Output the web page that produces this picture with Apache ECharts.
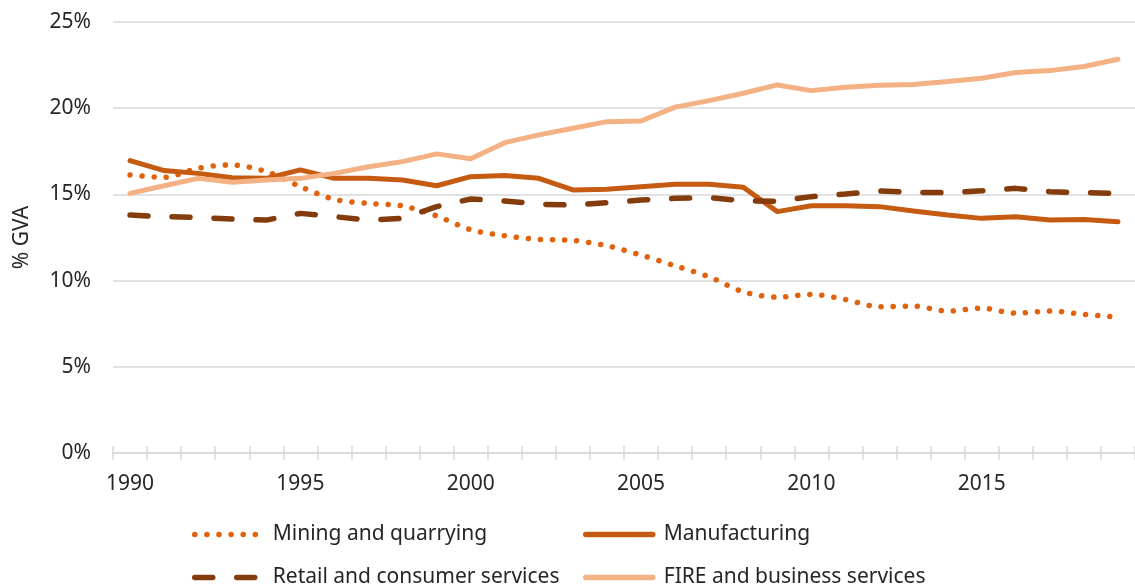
<!DOCTYPE html>
<html>
<head>
<meta charset="utf-8">
<script src="https://cdn.jsdelivr.net/npm/echarts@6/dist/echarts.min.js"></script>
<style>
  html, body { margin: 0; padding: 0; background: #fff; }
  #chart { width: 1135px; height: 587px; }
</style>
</head>
<body>
<div id="chart"></div>
<script>
// years on the x axis
const years = ['1990','1991','1992','1993','1994','1995','1996','1997','1998','1999',
  '2000','2001','2002','2003','2004','2005','2006','2007','2008','2009',
  '2010','2011','2012','2013','2014','2015','2016','2017','2018','2019']

// % of GVA
const mining = [16.13, 15.99, 16.52, 16.71, 16.32, 15.45, 14.71, 14.48, 14.33, 13.75,
  12.95, 12.6, 12.39, 12.33, 12.02, 11.48, 10.86, 10.22, 9.35, 9.04,
  9.2, 8.9, 8.48, 8.52, 8.23, 8.4, 8.11, 8.23, 8.04, 7.88]
const manufacturing = [16.96, 16.38, 16.22, 15.97, 15.93, 16.42, 15.93, 15.93, 15.84, 15.5,
  16.03, 16.09, 15.93, 15.26, 15.3, 15.45, 15.59, 15.59, 15.41, 14.0,
  14.34, 14.34, 14.29, 14.04, 13.8, 13.61, 13.71, 13.51, 13.55, 13.41]
const retail = [13.8, 13.71, 13.67, 13.57, 13.51, 13.9, 13.71, 13.51, 13.61, 14.29,
  14.73, 14.62, 14.43, 14.38, 14.52, 14.67, 14.77, 14.81, 14.62, 14.6,
  14.87, 15.02, 15.2, 15.12, 15.1, 15.21, 15.35, 15.16, 15.1, 15.06]
const fire = [15.06, 15.5, 15.93, 15.7, 15.84, 15.93, 16.22, 16.6, 16.9, 17.35,
  17.07, 18.0, 18.45, 18.84, 19.22, 19.26, 20.06, 20.44, 20.87, 21.35,
  21.02, 21.22, 21.33, 21.37, 21.55, 21.74, 22.07, 22.18, 22.42, 22.84]
const yTicks = [0, 5, 10, 15, 20, 25]

const fontName = 'Noto Sans'
const textColor = '#262626'
const gridColor = '#d9d9d9'

const chart = echarts.init(document.getElementById('chart'))

const legendBase = {
  orient: 'vertical',
  top: 524,
  height: 80,
  padding: 0,
  itemWidth: 67,
  itemHeight: 20,
  itemGap: 22,
  itemStyle: { opacity: 0 },
  lineStyle: { width: 5.5, cap: 'round' },
  textStyle: { fontFamily: fontName, fontSize: 21, color: textColor, padding: [0, 0, 0, 6] }
}

let option = {
  animation: false,
  textStyle: { fontFamily: fontName },
  grid: { left: 113, right: -6, top: 22, bottom: 134 },
  legend: [
    Object.assign({ left: 192, data: ['Mining and quarrying', 'Retail and consumer services'] }, legendBase),
    Object.assign({ left: 583, data: ['Manufacturing', 'FIRE and business services'] }, legendBase)
  ],
  xAxis: [{
    type: 'category',
    data: years,
    boundaryGap: true,
    position: 'bottom',
    axisLine: { lineStyle: { color: gridColor, width: 1.5 } },
    axisTick: { show: true, interval: 0, length: 7, lineStyle: { color: gridColor, width: 1.5 } },
    axisLabel: { interval: 4, margin: 21, fontSize: 21, color: textColor, fontFamily: fontName },
    splitLine: { show: false }
  }, {
    // second copy of the axis so the ticks cross the line
    type: 'category',
    data: years,
    boundaryGap: true,
    position: 'bottom',
    axisLine: { show: false },
    axisTick: { show: true, inside: true, interval: 0, length: 7, lineStyle: { color: gridColor, width: 1.5 } },
    axisLabel: { show: false },
    splitLine: { show: false }
  }],
  yAxis: {
    type: 'value',
    min: yTicks[0],
    max: yTicks[yTicks.length - 1],
    interval: 5,
    name: '% GVA',
    nameLocation: 'middle',
    nameRotate: 90,
    nameGap: 80,
    nameTextStyle: { fontSize: 21, color: textColor, fontFamily: fontName },
    axisLine: { show: false },
    axisTick: { show: false },
    axisLabel: { formatter: '{value}%', margin: 22, fontSize: 21, color: textColor, fontFamily: fontName },
    splitLine: { lineStyle: { color: gridColor, width: 1.5 } }
  },
  series: [{
    name: 'Mining and quarrying',
    type: 'line',
    data: mining,
    smooth: 0.3,
    symbol: 'none',
    color: '#e0620c',
    lineStyle: { color: '#e0620c', width: 5.5, type: [0.1, 12], cap: 'round' }
  }, {
    name: 'Manufacturing',
    type: 'line',
    data: manufacturing,
    symbol: 'none',
    color: '#c55a11',
    lineStyle: { color: '#c55a11', width: 5, cap: 'round' }
  }, {
    name: 'Retail and consumer services',
    type: 'line',
    data: retail,
    symbol: 'none',
    color: '#843c0c',
    lineStyle: { color: '#843c0c', width: 5.5, type: [18, 24], cap: 'round' }
  }, {
    name: 'FIRE and business services',
    type: 'line',
    data: fire,
    symbol: 'none',
    color: '#f4b183',
    lineStyle: { color: '#f4b183', width: 5, cap: 'round' }
  }]
}

chart.setOption(option)
</script>
</body>
</html>
